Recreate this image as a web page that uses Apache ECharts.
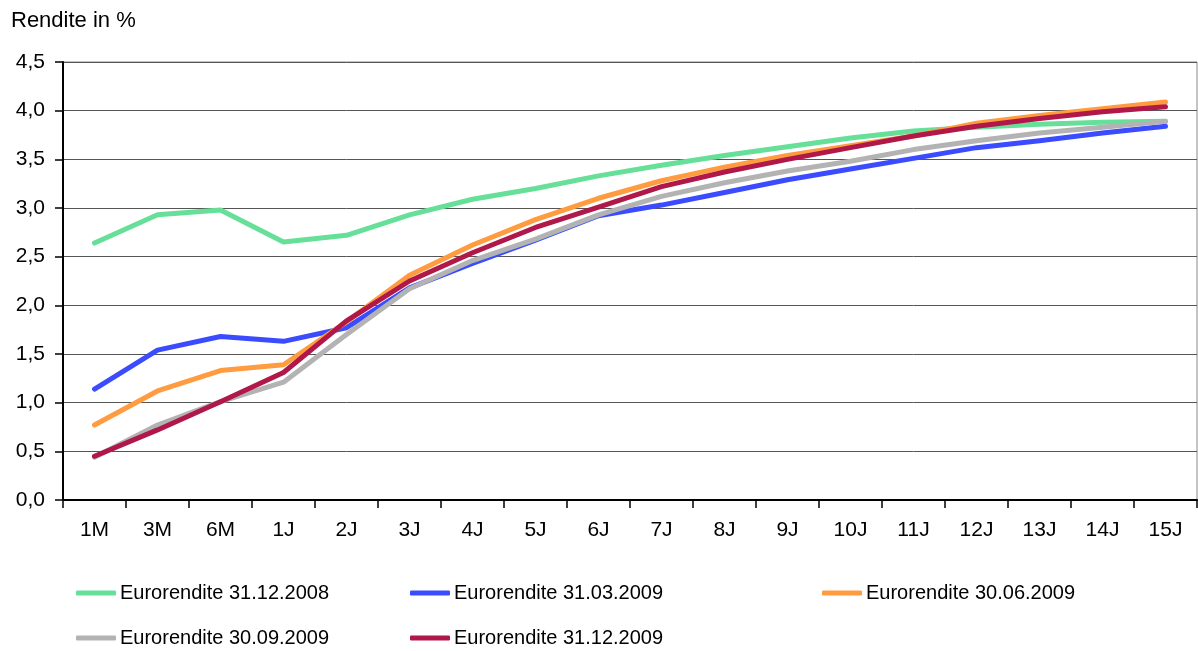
<!DOCTYPE html>
<html><head><meta charset="utf-8">
<script src="https://cdn.jsdelivr.net/npm/echarts@6/dist/echarts.min.js"></script>
<style>html,body{margin:0;padding:0;background:#fff}#c{width:1198px;height:651px}</style>
</head><body><div id="c"></div>
<script>
const categories = ['1M','3M','6M','1J','2J','3J','4J','5J','6J','7J','8J','9J','10J','11J','12J','13J','14J','15J'];
const seriesNames = ['Eurorendite 31.12.2008','Eurorendite 31.03.2009','Eurorendite 30.06.2009','Eurorendite 30.09.2009','Eurorendite 31.12.2009'];
const v20081231 = [2.64,2.93,2.98,2.65,2.72,2.93,3.09,3.20,3.33,3.44,3.54,3.63,3.72,3.79,3.83,3.86,3.88,3.89];
const v20090331 = [1.14,1.54,1.68,1.63,1.77,2.18,2.43,2.67,2.92,3.03,3.16,3.29,3.40,3.51,3.62,3.69,3.77,3.84];
const v20090630 = [0.77,1.12,1.33,1.39,1.83,2.31,2.62,2.88,3.10,3.28,3.42,3.54,3.64,3.74,3.87,3.95,4.02,4.09];
const v20090930 = [0.44,0.77,1.01,1.21,1.70,2.17,2.46,2.68,2.93,3.12,3.26,3.38,3.48,3.60,3.69,3.77,3.83,3.89];
const v20091231 = [0.45,0.72,1.01,1.31,1.84,2.25,2.54,2.80,3.01,3.22,3.37,3.50,3.62,3.74,3.84,3.92,3.99,4.04];
const yTicks = [0,0.5,1,1.5,2,2.5,3,3.5,4,4.5];

const colors = ['#66E099','#3B4BFF','#FF9C40','#B3B3B3','#B0184A'];
const allValues = [v20081231,v20090331,v20090630,v20090930,v20091231];
const font = 'Liberation Sans, Arial, sans-serif';
const legendPos = [[76,583],[410,583],[822,583],[76,628],[410,628]];

const chart = echarts.init(document.getElementById('c'));
chart.setOption({
  animation:false,
  textStyle:{fontFamily:font},
  title:{text:'Rendite in %',left:11,top:10,padding:0,textStyle:{fontFamily:font,fontSize:22,fontWeight:'normal',color:'#000'}},
  legend: seriesNames.map((n,i)=>({
    data:[n],left:legendPos[i][0],top:legendPos[i][1],
    icon:'roundRect',itemWidth:40,itemHeight:5,itemGap:4,padding:0,
    textStyle:{fontFamily:font,fontSize:20,color:'#000',padding:[0,0,0,-1]}
  })),
  grid:{left:63,right:1,top:62,bottom:151,show:true,borderColor:'#888',borderWidth:1},
  xAxis:{type:'category',data:categories,boundaryGap:true,
    axisLine:{lineStyle:{color:'#000',width:2}},
    axisTick:{show:true,length:8,lineStyle:{color:'#000',width:1.5}},
    axisLabel:{color:'#000',fontSize:21,margin:20,fontFamily:font},
    splitLine:{show:false}},
  yAxis:{type:'value',min:0,max:4.5,interval:0.5,
    axisLine:{show:true,lineStyle:{color:'#000',width:2}},
    axisTick:{show:true,length:8,lineStyle:{color:'#000',width:1.5}},
    axisLabel:{color:'#000',fontSize:21,margin:18,fontFamily:font,formatter:v=>v.toFixed(1).replace('.',',')},
    splitLine:{show:true,lineStyle:{color:'#555',width:1}}},
  series: seriesNames.map((n,i)=>({
    name:n,type:'line',data:allValues[i],symbol:'none',
    lineStyle:{color:colors[i],width:5,cap:'round',join:'round'},
    itemStyle:{color:colors[i]}
  }))
});
</script></body></html>
